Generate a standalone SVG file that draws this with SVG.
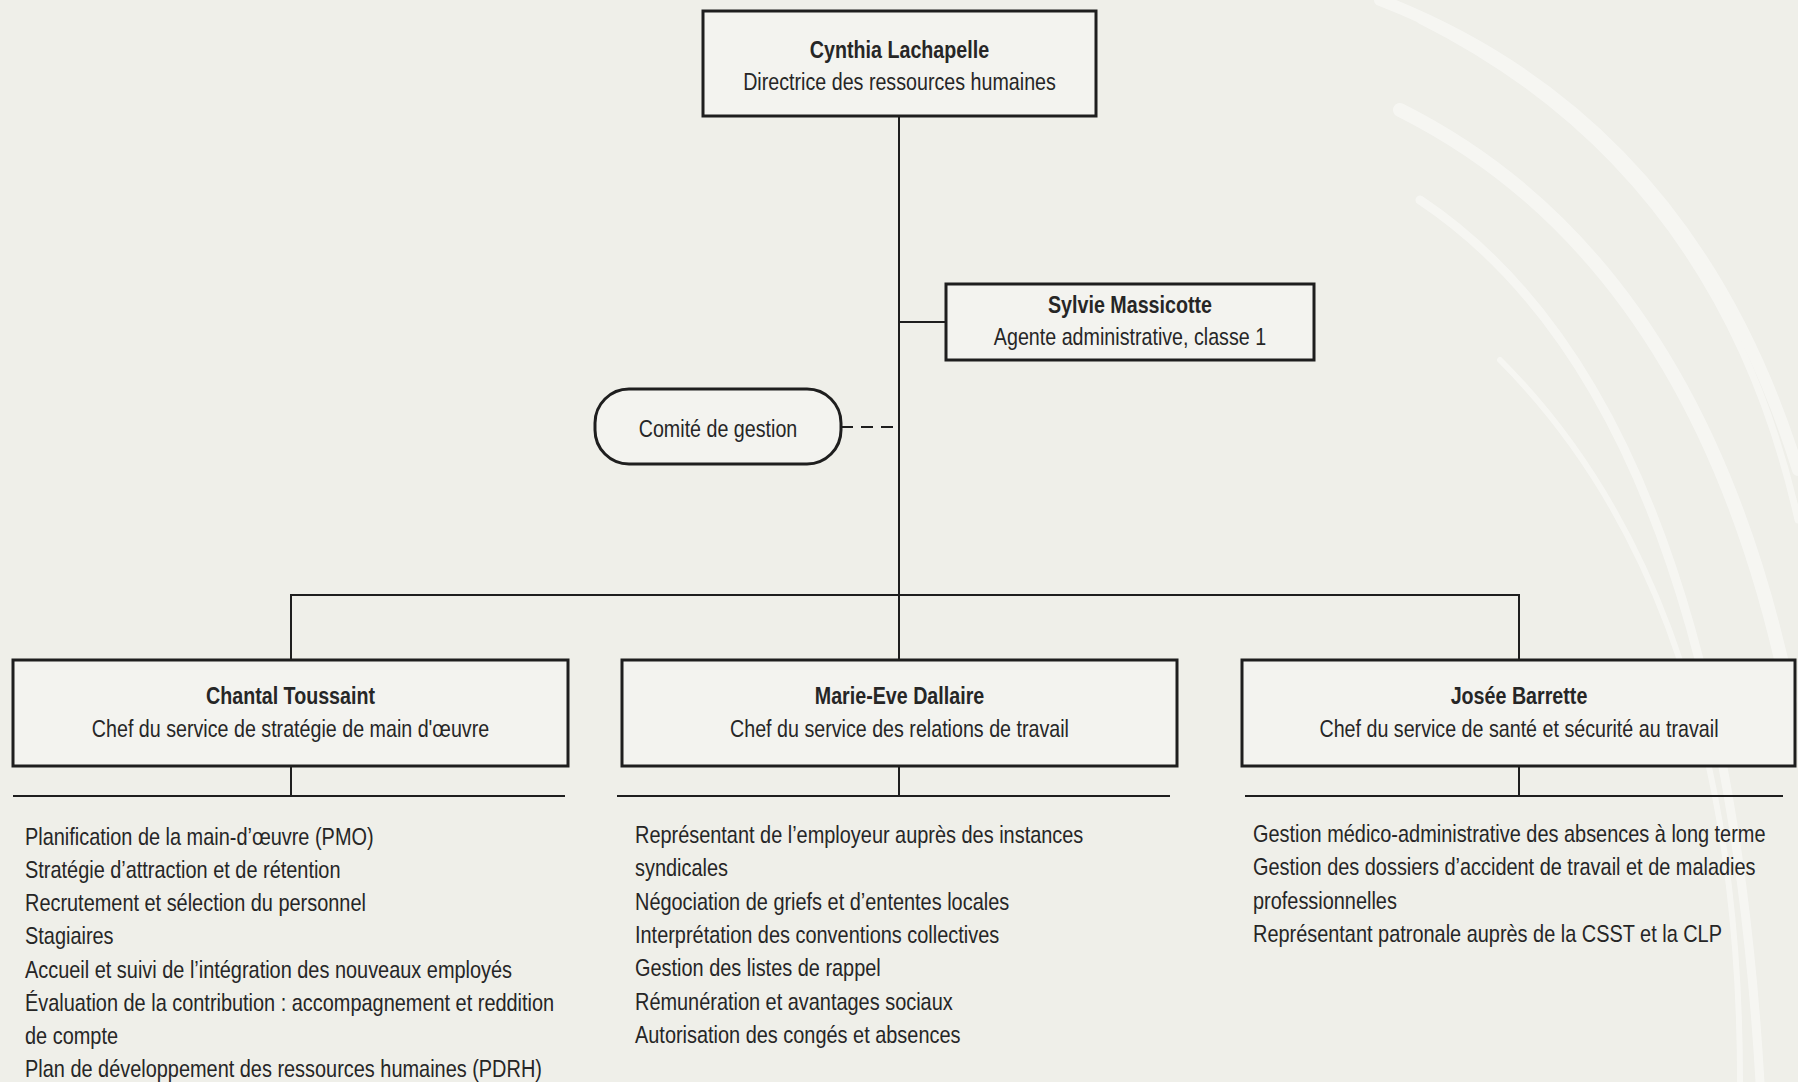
<svg xmlns="http://www.w3.org/2000/svg" width="1798" height="1082" viewBox="0 0 1798 1082">
<style>
text{font-family:"Liberation Sans",Arial,sans-serif;font-size:24px;fill:#262626}
.b{font-weight:bold}
.c{text-anchor:middle}
.box{fill:#f3f3ef;stroke:#1e1e1e;stroke-width:3}
.ln{stroke:#1e1e1e;stroke-width:2;fill:none}
.sw{fill:none;stroke:#ffffff;stroke-linecap:round}
</style>
<rect width="1798" height="1082" fill="#efefe9"/>
<g id="background" opacity="0.45">
<path class="sw" d="M1380,0 Q1690,120 1798,470" stroke-width="12"/>
<path class="sw" d="M1420,20 Q1720,170 1798,520" stroke-width="7"/>
<path class="sw" d="M1400,110 Q1700,260 1790,700" stroke-width="14"/>
<path class="sw" d="M1420,200 Q1720,400 1760,1082" stroke-width="9"/>
<path class="sw" d="M1500,360 Q1740,600 1740,1082" stroke-width="6"/>
</g>
<g id="connectors">
<line class="ln" x1="899" y1="116" x2="899" y2="660"/>
<line class="ln" x1="899" y1="322" x2="945" y2="322"/>
<line class="ln" x1="841" y1="427" x2="899" y2="427" stroke-dasharray="12,8"/>
<polyline class="ln" points="291,660 291,595 1519,595 1519,660"/>
<line class="ln" x1="291" y1="766" x2="291" y2="796"/>
<line class="ln" x1="13" y1="796" x2="565" y2="796"/>
<line class="ln" x1="899" y1="766" x2="899" y2="796"/>
<line class="ln" x1="617" y1="796" x2="1170" y2="796"/>
<line class="ln" x1="1519" y1="766" x2="1519" y2="796"/>
<line class="ln" x1="1245" y1="796" x2="1783" y2="796"/>
</g>
<g id="cynthia">
<rect class="box" x="703" y="11" width="393" height="105"/>
<text class="b c" transform="matrix(.82 0 0 1 899.5 58)">Cynthia Lachapelle</text>
<text class="c" transform="matrix(.82 0 0 1 899.5 90)">Directrice des ressources humaines</text>
</g>
<g id="sylvie">
<rect class="box" x="946" y="284" width="368" height="76"/>
<text class="b c" transform="matrix(.82 0 0 1 1130 313)">Sylvie Massicotte</text>
<text class="c" transform="matrix(.82 0 0 1 1130 345)">Agente administrative, classe 1</text>
</g>
<g id="comite">
<rect class="box" x="595" y="389" width="246" height="75" rx="34" ry="34"/>
<text class="c" transform="matrix(.82 0 0 1 718 437)">Comité de gestion</text>
</g>
<g id="chantal">
<rect class="box" x="13" y="660" width="555" height="106"/>
<text class="b c" transform="matrix(.82 0 0 1 290.5 704)">Chantal Toussaint</text>
<text class="c" transform="matrix(.82 0 0 1 290.5 737)">Chef du service de stratégie de main d'œuvre</text>
</g>
<g id="marie-eve">
<rect class="box" x="622" y="660" width="555" height="106"/>
<text class="b c" transform="matrix(.82 0 0 1 899.5 704)">Marie-Eve Dallaire</text>
<text class="c" transform="matrix(.82 0 0 1 899.5 737)">Chef du service des relations de travail</text>
</g>
<g id="josee">
<rect class="box" x="1242" y="660" width="553" height="106"/>
<text class="b c" transform="matrix(.82 0 0 1 1519 704)">Josée Barrette</text>
<text class="c" transform="matrix(.82 0 0 1 1519 737)">Chef du service de santé et sécurité au travail</text>
</g>
<g id="list-chantal">
<text transform="matrix(.83 0 0 1 25 845)">Planification de la main-d’œuvre (PMO)</text>
<text transform="matrix(.83 0 0 1 25 878)">Stratégie d’attraction et de rétention</text>
<text transform="matrix(.83 0 0 1 25 911)">Recrutement et sélection du personnel</text>
<text transform="matrix(.83 0 0 1 25 944)">Stagiaires</text>
<text transform="matrix(.83 0 0 1 25 978)">Accueil et suivi de l’intégration des nouveaux employés</text>
<text transform="matrix(.83 0 0 1 25 1011)">Évaluation de la contribution : accompagnement et reddition</text>
<text transform="matrix(.83 0 0 1 25 1044)">de compte</text>
<text transform="matrix(.83 0 0 1 25 1077)">Plan de développement des ressources humaines (PDRH)</text>
</g>
<g id="list-marie-eve">
<text transform="matrix(.83 0 0 1 635 843)">Représentant de l’employeur auprès des instances</text>
<text transform="matrix(.83 0 0 1 635 876)">syndicales</text>
<text transform="matrix(.83 0 0 1 635 910)">Négociation de griefs et d’ententes locales</text>
<text transform="matrix(.83 0 0 1 635 943)">Interprétation des conventions collectives</text>
<text transform="matrix(.83 0 0 1 635 976)">Gestion des listes de rappel</text>
<text transform="matrix(.83 0 0 1 635 1010)">Rémunération et avantages sociaux</text>
<text transform="matrix(.83 0 0 1 635 1043)">Autorisation des congés et absences</text>
</g>
<g id="list-josee">
<text transform="matrix(.83 0 0 1 1253 842)">Gestion médico-administrative des absences à long terme</text>
<text transform="matrix(.83 0 0 1 1253 875)">Gestion des dossiers d’accident de travail et de maladies</text>
<text transform="matrix(.83 0 0 1 1253 909)">professionnelles</text>
<text transform="matrix(.83 0 0 1 1253 942)">Représentant patronale auprès de la CSST et la CLP</text>
</g>
</svg>
